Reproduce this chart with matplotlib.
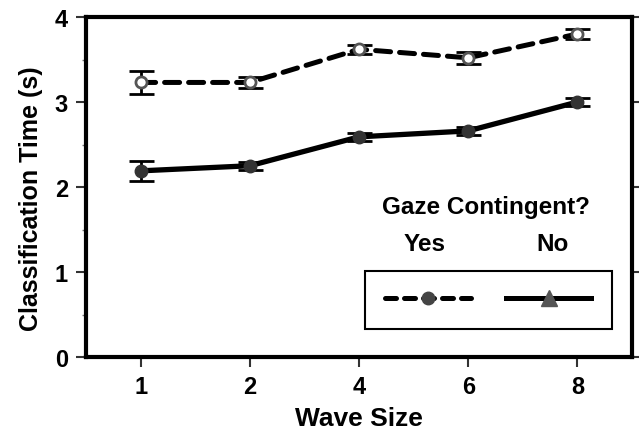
import matplotlib.pyplot as plt
from matplotlib.lines import Line2D

plt.rcParams['font.family'] = ['Liberation Sans', 'DejaVu Sans']
plt.rcParams['font.weight'] = 'bold'

# wave sizes (shown as evenly spaced categories)
wave_sizes = ['1', '2', '4', '6', '8']
# gaze contingent = yes
yes_mean = [3.23, 3.23, 3.62, 3.52, 3.80]
yes_err = [0.13, 0.07, 0.05, 0.07, 0.06]
# gaze contingent = no
no_mean = [2.19, 2.25, 2.59, 2.66, 3.00]
no_err = [0.12, 0.05, 0.05, 0.05, 0.05]

fig = plt.figure(figsize=(6.39, 4.35), dpi=100)
ax = fig.add_axes([86/639, 1 - 358/435, 546/639, 340/435])

x = list(range(len(wave_sizes)))

# plotting the yes line
yes = ax.errorbar(x, yes_mean, yerr=yes_err, color='black', ls=(0, (3, 1.8)), lw=3.6,
                  marker='o', ms=8, mfc='white', mec='#555555', mew=2,
                  ecolor='black', elinewidth=2, capsize=9, capthick=2, zorder=3)
yes[0].set_dash_capstyle('round')
# plotting the no line
ax.errorbar(x, no_mean, yerr=no_err, color='black', ls='-', lw=3.8,
            marker='o', ms=9, mfc='#333333', mec='#333333',
            ecolor='black', elinewidth=2, capsize=9, capthick=2, zorder=3)

ax.set_xlim(-0.5, 4.5)
ax.set_ylim(0, 4)
ax.set_xticks(x)
ax.set_xticklabels(wave_sizes)
ax.set_yticks([0, 1, 2, 3, 4])
ax.set_yticks([0.5, 1.5, 2.5, 3.5], minor=True)

for s in ax.spines.values():
    s.set_linewidth(3)
    s.set_color('black')

ax.tick_params(axis='both', which='major', labelsize=17, length=7, width=1.5,
               color='#333333', pad=6)
ax.tick_params(axis='y', which='minor', length=3, width=1, color='#777777')
ax.tick_params(axis='y', which='both', right=True)
ax.tick_params(axis='y', which='minor', right=False)

ax.set_xlabel('Wave Size', fontsize=19, fontweight='bold', labelpad=6)
ax.set_ylabel('Classification Time (s)', fontsize=18, fontweight='bold')
ax.yaxis.set_label_coords(-0.079, 0.47)

# legend box with the column headers written above it
handles = [
    Line2D([], [], color='black', ls=(0, (2.2, 1.6)), lw=3.6, marker='o', ms=9,
           mfc='#444444', mec='#444444', dash_capstyle='round'),
    Line2D([], [], color='black', ls='-', lw=3.6, marker='^', ms=11,
           mfc='#555555', mec='#555555'),
]
leg = ax.legend(handles, ['', ''], ncol=2, loc='lower left',
                bbox_to_anchor=(0.511, 0.082, 0.452, 0.177), mode='expand',
                borderaxespad=0, handlelength=4.4, handletextpad=0,
                columnspacing=2.5, fancybox=False, edgecolor='black',
                borderpad=1.05, fontsize=14)
leg.get_frame().set_linewidth(1.5)
leg.get_frame().set_alpha(1)

ax.text(0.732, 0.443, 'Gaze Contingent?', transform=ax.transAxes, ha='center',
        va='center', fontsize=17.5, fontweight='bold')
ax.text(0.62, 0.335, 'Yes', transform=ax.transAxes, ha='center',
        va='center', fontsize=17.5, fontweight='bold')
ax.text(0.855, 0.335, 'No', transform=ax.transAxes, ha='center',
        va='center', fontsize=17.5, fontweight='bold')

fig.savefig('out.png', dpi=100)
